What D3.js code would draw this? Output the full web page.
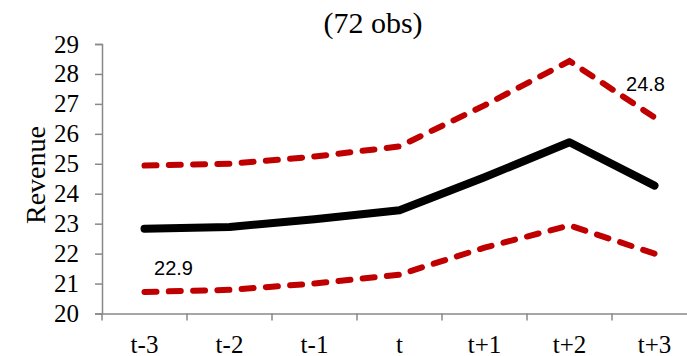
<!DOCTYPE html>
<html>
<head>
<meta charset="utf-8">
<script src="https://cdn.jsdelivr.net/npm/d3@7"></script>
<style>
  body { margin: 0; background: #fff; }
  svg { display: block; }
</style>
</head>
<body>
<div id="chart"></div>
<script>
// chart data
const periods = ["t-3", "t-2", "t-1", "t", "t+1", "t+2", "t+3"];
const meanRevenue = [22.83, 22.89, 23.15, 23.45, 24.55, 25.72, 24.27];
const upperBand = [24.94, 25.0, 25.24, 25.58, 26.95, 28.43, 26.55];
const lowerBand = [20.72, 20.79, 21.0, 21.3, 22.2, 22.94, 22.0];
const yTicks = [20, 21, 22, 23, 24, 25, 26, 27, 28, 29];
const annotations = [
  { period: "t-3", text: "22.9", dx: 29, dy: 275 },
  { period: "t+3", text: "24.8", dx: -9, dy: 91 }
];

const W = 687, H = 356;
const left = 102, bandW = 85;
const serif = "'Liberation Serif', 'Times New Roman', serif";

const svg = d3.select("#chart").append("svg")
  .attr("width", W)
  .attr("height", H);

// scales
const x = d3.scaleBand()
  .domain(periods)
  .range([left, left + periods.length * bandW]);

const y = d3.scaleLinear()
  .domain([20, 29])
  .range([313.5, 44]);

// y axis
const yAxis = svg.append("g")
  .attr("transform", `translate(${left},0)`)
  .call(d3.axisLeft(y).tickValues(yTicks).tickSize(7).tickPadding(16).tickFormat(d3.format("d")));
yAxis.select(".domain").attr("stroke", "#888").attr("stroke-width", 1.5);
yAxis.selectAll(".tick line").attr("stroke", "#888").attr("stroke-width", 1.5);
yAxis.selectAll(".tick text")
  .attr("font-family", serif)
  .attr("font-size", 25)
  .attr("fill", "#000");

// x axis
const xAxis = svg.append("g")
  .attr("transform", `translate(0,${y(20)})`)
  .call(d3.axisBottom(x).tickSize(0).tickPadding(22));
xAxis.select(".domain").attr("stroke", "#888").attr("stroke-width", 1.5);
xAxis.selectAll(".tick text")
  .attr("font-family", serif)
  .attr("font-size", 25)
  .attr("fill", "#000");

// category boundary ticks
xAxis.selectAll(".bound")
  .data(periods)
  .join("line")
  .attr("class", "bound")
  .attr("x1", d => x(d))
  .attr("x2", d => x(d))
  .attr("y1", 0)
  .attr("y2", 7)
  .attr("stroke", "#888")
  .attr("stroke-width", 1.5);

// lines
const line = d3.line()
  .x((d, i) => x(periods[i]) + x.bandwidth() / 2)
  .y(d => y(d));

svg.append("path")
  .attr("d", line(upperBand))
  .attr("fill", "none")
  .attr("stroke", "#C00000")
  .attr("stroke-width", 6)
  .attr("stroke-linecap", "round")
  .attr("stroke-dasharray", "12,12.3");

svg.append("path")
  .attr("d", line(lowerBand))
  .attr("fill", "none")
  .attr("stroke", "#C00000")
  .attr("stroke-width", 6)
  .attr("stroke-linecap", "round")
  .attr("stroke-dasharray", "12,12.3");

svg.append("path")
  .attr("d", line(meanRevenue))
  .attr("fill", "none")
  .attr("stroke", "#000")
  .attr("stroke-width", 8)
  .attr("stroke-linejoin", "round")
  .attr("stroke-linecap", "round");

// data labels
svg.selectAll(".ann")
  .data(annotations)
  .join("text")
  .attr("class", "ann")
  .attr("x", d => x(d.period) + x.bandwidth() / 2 + d.dx)
  .attr("y", d => d.dy)
  .attr("text-anchor", "middle")
  .attr("font-family", "'Liberation Sans', Arial, sans-serif")
  .attr("font-size", 20)
  .attr("fill", "#000")
  .text(d => d.text);

// title
svg.append("text")
  .attr("x", 373)
  .attr("y", 33)
  .attr("text-anchor", "middle")
  .attr("font-family", serif)
  .attr("font-size", 30)
  .text("(72 obs)");

// y label
svg.append("text")
  .attr("transform", `translate(45,175) rotate(-90)`)
  .attr("text-anchor", "middle")
  .attr("font-family", serif)
  .attr("font-size", 28)
  .text("Revenue");
</script>
</body>
</html>
